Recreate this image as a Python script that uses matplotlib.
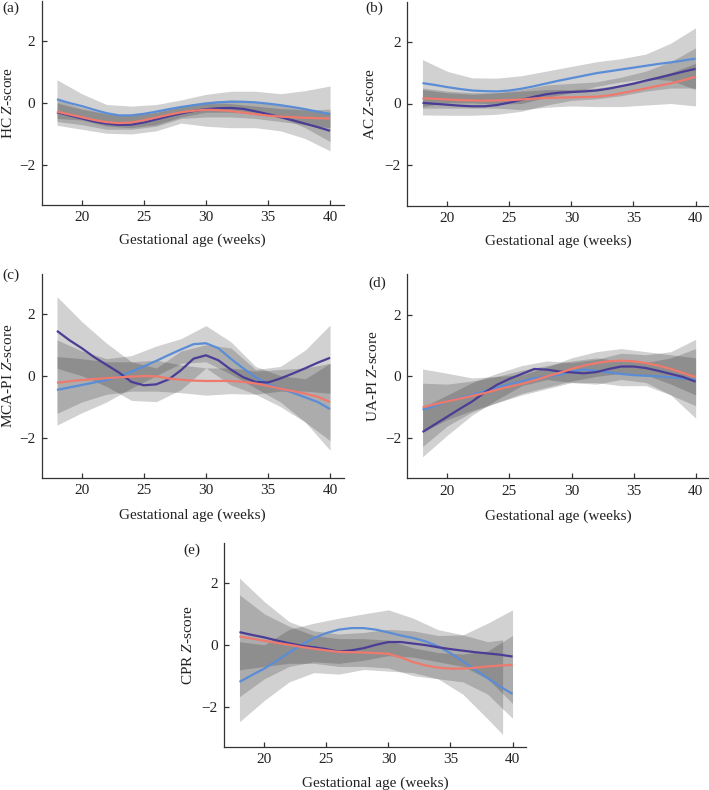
import matplotlib
matplotlib.use("Agg")
import matplotlib.pyplot as plt

plt.rcParams['font.family'] = ['Liberation Serif', 'DejaVu Serif']
plt.rcParams['mathtext.fontset'] = 'custom'
plt.rcParams['mathtext.rm'] = 'Liberation Serif'
plt.rcParams['mathtext.it'] = 'Liberation Serif:italic'
plt.rcParams['axes.unicode_minus'] = True

# ---------------- data ----------------
weeks = list(range(18, 41))
band_weeks = list(range(18, 41, 2))
band_weeks_e_blue = [18, 20, 22, 24, 26, 28, 30, 32, 34, 36, 38, 39.2]

panel_letters = ['(a)', '(b)', '(c)', '(d)', '(e)']
y_labels = ['HC $Z$-score', 'AC $Z$-score', 'MCA-PI $Z$-score', 'UA-PI $Z$-score', 'CPR $Z$-score']
x_label = 'Gestational age (weeks)'
x_ticks = [20, 25, 30, 35, 40]
y_ticks = [-2, 0, 2]

# (a) HC
a_blue = [0.12, 0.0, -0.1, -0.22, -0.33, -0.4, -0.4, -0.35, -0.28, -0.2, -0.13, -0.07, -0.02, 0.02, 0.04, 0.04, 0.02, -0.02, -0.07, -0.13, -0.2, -0.28, -0.36]
a_purple = [-0.3, -0.4, -0.5, -0.6, -0.67, -0.71, -0.7, -0.63, -0.53, -0.43, -0.34, -0.26, -0.2, -0.17, -0.16, -0.19, -0.27, -0.36, -0.46, -0.56, -0.67, -0.78, -0.9]
a_red = [-0.28, -0.37, -0.46, -0.55, -0.62, -0.65, -0.63, -0.56, -0.47, -0.38, -0.3, -0.25, -0.22, -0.23, -0.26, -0.31, -0.36, -0.41, -0.44, -0.46, -0.48, -0.49, -0.5]
a_blue_hi = [0.75, 0.3, -0.05, -0.1, -0.05, 0.1, 0.28, 0.38, 0.38, 0.3, 0.4, 0.55]
a_blue_lo = [-0.5, -0.55, -0.75, -0.8, -0.7, -0.45, -0.3, -0.3, -0.35, -0.45, -0.8, -1.25]
a_purple_hi = [0.1, -0.15, -0.35, -0.4, -0.3, -0.1, 0.05, 0.1, 0.05, -0.05, -0.2, -0.3]
a_purple_lo = [-0.72, -0.85, -0.98, -1.0, -0.9, -0.65, -0.75, -0.8, -0.8, -0.9, -1.15, -1.55]
a_red_hi = [0.0, -0.2, -0.35, -0.4, -0.3, -0.12, 0.0, -0.02, -0.1, -0.18, -0.22, -0.2]
a_red_lo = [-0.6, -0.7, -0.85, -0.85, -0.75, -0.5, -0.45, -0.45, -0.5, -0.6, -0.7, -0.8]

# (b) AC
b_blue = [0.66, 0.6, 0.53, 0.47, 0.42, 0.4, 0.39, 0.42, 0.48, 0.56, 0.65, 0.74, 0.82, 0.9, 0.98, 1.04, 1.1, 1.16, 1.22, 1.28, 1.33, 1.39, 1.45]
b_purple = [0.02, -0.01, -0.04, -0.07, -0.09, -0.09, -0.05, 0.03, 0.12, 0.22, 0.3, 0.35, 0.37, 0.39, 0.42, 0.48, 0.56, 0.64, 0.74, 0.83, 0.93, 1.03, 1.12]
b_red = [0.17, 0.15, 0.13, 0.11, 0.1, 0.09, 0.1, 0.11, 0.13, 0.16, 0.18, 0.19, 0.2, 0.21, 0.22, 0.26, 0.33, 0.41, 0.49, 0.57, 0.65, 0.75, 0.86]
b_blue_hi = [1.42, 1.04, 0.83, 0.82, 0.9, 1.05, 1.2, 1.35, 1.45, 1.6, 1.95, 2.45]
b_blue_lo = [-0.1, 0.02, 0.02, -0.02, 0.0, 0.2, 0.35, 0.55, 0.7, 0.8, 0.75, 0.45]
b_purple_hi = [0.45, 0.35, 0.3, 0.35, 0.45, 0.6, 0.65, 0.7, 0.85, 1.05, 1.35, 1.8]
b_purple_lo = [-0.37, -0.38, -0.38, -0.35, -0.25, -0.05, 0.1, 0.15, 0.25, 0.4, 0.5, 0.5]
b_red_hi = [0.5, 0.4, 0.35, 0.35, 0.4, 0.45, 0.45, 0.5, 0.6, 0.8, 1.0, 1.3]
b_red_lo = [-0.15, -0.15, -0.15, -0.15, -0.2, -0.12, -0.08, -0.1, -0.1, -0.05, 0.0, -0.08]

# (c) MCA-PI
c_blue = [-0.46, -0.38, -0.3, -0.22, -0.14, -0.02, 0.13, 0.3, 0.48, 0.67, 0.85, 1.02, 1.05, 0.89, 0.55, 0.24, -0.05, -0.27, -0.41, -0.55, -0.7, -0.85, -1.08]
c_purple = [1.45, 1.15, 0.89, 0.6, 0.35, 0.1, -0.2, -0.31, -0.28, -0.12, 0.18, 0.55, 0.66, 0.5, 0.2, -0.05, -0.2, -0.22, -0.09, 0.07, 0.24, 0.42, 0.58]
c_red = [-0.23, -0.18, -0.14, -0.11, -0.08, -0.05, -0.03, -0.01, -0.02, -0.09, -0.13, -0.16, -0.17, -0.17, -0.17, -0.2, -0.25, -0.33, -0.42, -0.5, -0.58, -0.68, -0.85]
c_blue_hi = [1.16, 0.8, 0.55, 0.65, 0.96, 1.2, 1.62, 1.1, 0.3, 0.0, -0.1, 0.4]
c_blue_lo = [-1.6, -1.2, -0.85, -0.4, 0.0, 0.4, 0.45, 0.05, -0.4, -0.85, -1.5, -2.41]
c_purple_hi = [2.56, 1.75, 1.05, 0.45, 0.25, 0.8, 1.0, 0.9, 0.2, 0.3, 0.83, 1.64]
c_purple_lo = [0.24, 0.0, -0.35, -0.8, -0.84, -0.45, 0.25, -0.3, -0.6, -0.5, -0.5, -0.57]
c_red_hi = [0.62, 0.55, 0.45, 0.45, 0.5, 0.35, 0.25, 0.25, 0.15, 0.2, 0.25, 0.4]
c_red_lo = [-1.22, -0.85, -0.6, -0.5, -0.5, -0.55, -0.63, -0.58, -0.6, -1.0, -1.5, -2.1]

# (d) UA-PI
d_blue = [-1.08, -0.95, -0.81, -0.7, -0.6, -0.48, -0.36, -0.26, -0.16, -0.06, 0.0, 0.05, 0.16, 0.22, 0.18, 0.13, 0.08, 0.04, 0.02, 0.0, -0.03, -0.07, -0.11]
d_purple = [-1.8, -1.55, -1.3, -1.05, -0.81, -0.52, -0.27, -0.08, 0.08, 0.24, 0.22, 0.16, 0.13, 0.1, 0.14, 0.24, 0.32, 0.32, 0.27, 0.18, 0.08, -0.02, -0.17]
d_red = [-1.0, -0.9, -0.81, -0.72, -0.63, -0.54, -0.43, -0.33, -0.24, -0.13, 0.0, 0.11, 0.24, 0.35, 0.43, 0.49, 0.51, 0.49, 0.43, 0.35, 0.24, 0.11, -0.02]
d_blue_hi = [0.24, 0.1, -0.05, 0.0, 0.2, 0.35, 0.5, 0.6, 0.5, 0.45, 0.6, 0.9]
d_blue_lo = [-2.27, -1.6, -1.15, -0.85, -0.6, -0.4, -0.2, -0.2, -0.3, -0.3, -0.6, -0.95]
d_purple_hi = [-1.0, -0.6, -0.2, 0.1, 0.35, 0.5, 0.45, 0.55, 0.75, 0.7, 0.8, 1.2]
d_purple_lo = [-2.6, -1.9, -1.25, -0.75, -0.3, -0.1, -0.2, -0.25, -0.1, -0.2, -0.6, -1.35]
d_red_hi = [-0.22, -0.25, -0.15, 0.0, 0.05, 0.3, 0.6, 0.8, 0.9, 0.8, 0.7, 0.6]
d_red_lo = [-1.8, -1.4, -1.1, -0.85, -0.55, -0.35, -0.15, 0.0, 0.1, 0.05, -0.25, -0.6]

# (e) CPR
e_blue = [-1.2, -0.98, -0.77, -0.52, -0.25, 0.0, 0.22, 0.38, 0.49, 0.54, 0.54, 0.49, 0.4, 0.3, 0.22, 0.11, -0.05, -0.27, -0.54, -0.81, -1.08, -1.35, -1.59]
e_purple = [0.41, 0.32, 0.24, 0.14, 0.05, -0.03, -0.08, -0.14, -0.22, -0.18, -0.11, 0.0, 0.09, 0.09, 0.04, -0.01, -0.08, -0.14, -0.19, -0.24, -0.28, -0.32, -0.38]
e_red = [0.27, 0.2, 0.13, 0.06, 0.0, -0.07, -0.13, -0.18, -0.23, -0.24, -0.25, -0.27, -0.29, -0.41, -0.56, -0.67, -0.74, -0.77, -0.77, -0.74, -0.7, -0.67, -0.65]
e_blue_hi = [0.1, 0.0, 0.5, 0.7, 0.86, 1.0, 1.13, 0.86, 0.49, 0.32, 0.1, 0.16]
e_blue_lo = [-2.49, -1.8, -1.2, -0.9, -0.95, -0.8, -0.85, -0.9, -1.1, -1.6, -2.4, -2.9]
e_purple_hi = [2.16, 1.4, 0.75, 0.45, 0.35, 0.4, 0.5, 0.45, 0.3, 0.32, 0.7, 1.13]
e_purple_lo = [-1.68, -1.1, -0.7, -0.55, -0.6, -0.5, -0.35, -0.4, -0.55, -0.7, -1.1, -1.9]
e_red_hi = [1.62, 1.0, 0.6, 0.3, 0.2, 0.2, 0.15, -0.1, -0.25, -0.3, -0.2, 0.3]
e_red_lo = [-0.81, -0.7, -0.6, -0.6, -0.7, -0.7, -0.75, -1.0, -1.1, -1.2, -1.6, -2.38]

# ---------------- style / layout ----------------
BLUE = '#5b8dd6'
PURPLE = '#4a3d96'
RED = '#ee7a6e'
BAND = '#1a1a1a'
BAND_ALPHA = 0.2
AX_COL = '#333333'
TXT_COL = '#222222'

W, H = 709, 790
AX_W, AX_H = 302, 204
XLIM = (16.77, 41.1)
YLIM = (-3.3, 3.3)

# (axes left px, axes bottom px, ylabel x frac, xlabel y frac, letter x px, letter y px)
layout = [
    (41.7, 205.0, -0.112, -0.172, 2, 8),
    (407.2, 205.5, -0.123, -0.177, 365, 8),
    (41.7, 477.7, -0.110, -0.183, 2, 275),
    (407.3, 478.4, -0.113, -0.185, 368, 283),
    (224.2, 746.8, -0.119, -0.179, 183, 550),
]

panels = [
    dict(lines=(a_blue, a_purple, a_red),
         bands=[(band_weeks, a_blue_hi, a_blue_lo), (band_weeks, a_purple_hi, a_purple_lo), (band_weeks, a_red_hi, a_red_lo)]),
    dict(lines=(b_blue, b_purple, b_red),
         bands=[(band_weeks, b_blue_hi, b_blue_lo), (band_weeks, b_purple_hi, b_purple_lo), (band_weeks, b_red_hi, b_red_lo)]),
    dict(lines=(c_blue, c_purple, c_red),
         bands=[(band_weeks, c_blue_hi, c_blue_lo), (band_weeks, c_purple_hi, c_purple_lo), (band_weeks, c_red_hi, c_red_lo)]),
    dict(lines=(d_blue, d_purple, d_red),
         bands=[(band_weeks, d_blue_hi, d_blue_lo), (band_weeks, d_purple_hi, d_purple_lo), (band_weeks, d_red_hi, d_red_lo)]),
    dict(lines=(e_blue, e_purple, e_red),
         bands=[(band_weeks_e_blue, e_blue_hi, e_blue_lo), (band_weeks, e_purple_hi, e_purple_lo), (band_weeks, e_red_hi, e_red_lo)]),
]

fig = plt.figure(figsize=(W / 100, H / 100), dpi=100)
FS = 11

for i, (p, lay) in enumerate(zip(panels, layout)):
    lpx, bpx, ylx, xly, ltx, lty = lay
    ax = fig.add_axes([lpx / W, 1 - bpx / H, AX_W / W, AX_H / H])
    for bx, hi, lo in p['bands']:
        ax.fill_between(bx, lo, hi, color=BAND, alpha=BAND_ALPHA, linewidth=0)
    for vals, col in zip(p['lines'], (BLUE, PURPLE, RED)):
        ax.plot(weeks, vals, color=col, lw=1.6, solid_capstyle='butt')
    ax.set_xlim(*XLIM)
    ax.set_ylim(*YLIM)
    ax.set_xticks(x_ticks)
    ax.set_yticks(y_ticks)
    for s in ('top', 'right'):
        ax.spines[s].set_visible(False)
    for s in ('left', 'bottom'):
        ax.spines[s].set_color(AX_COL)
        ax.spines[s].set_linewidth(0.9)
    ax.tick_params(direction='in', length=3.8, width=0.9, color=AX_COL,
                   labelsize=FS, labelcolor=TXT_COL, pad=4.5)
    ax.text(ylx, 0.5, y_labels[i], rotation=90, ha='center', va='center',
            transform=ax.transAxes, fontsize=FS, color=TXT_COL)
    ax.text(0.5, xly, x_label, ha='center', va='center',
            transform=ax.transAxes, fontsize=FS, color=TXT_COL)
    fig.text(ltx / W, 1 - lty / H, panel_letters[i], ha='left', va='center',
             fontsize=FS, color=TXT_COL)

fig.savefig('out.png', dpi=100)
